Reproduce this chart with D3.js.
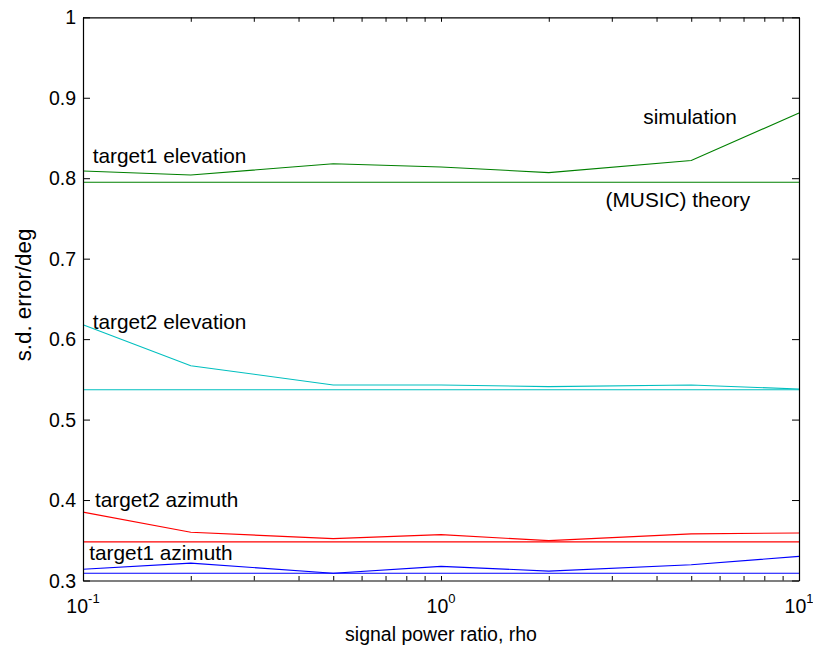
<!DOCTYPE html>
<html>
<head>
<meta charset="utf-8">
<script src="https://cdn.jsdelivr.net/npm/d3@7"></script>
<style>
  html, body { margin: 0; padding: 0; background: #fff; }
  svg { display: block; font-family: "Liberation Sans", Arial, sans-serif; }
</style>
</head>
<body>
<svg id="chart" width="813" height="650"></svg>
<script>
// signal power ratio values (log axis)
const rho = [0.1, 0.2, 0.5, 1, 2, 5, 10];

// standard deviation of the DOA error, in degrees
const t1ElevSim    = [0.809, 0.804, 0.818, 0.814, 0.807, 0.822, 0.881];
const t1ElevTheory = [0.795, 0.795, 0.795, 0.795, 0.795, 0.795, 0.795];
const t2ElevSim    = [0.618, 0.567, 0.543, 0.543, 0.541, 0.543, 0.538];
const t2ElevTheory = [0.537, 0.537, 0.537, 0.537, 0.537, 0.537, 0.537];
const t2AzSim      = [0.385, 0.360, 0.352, 0.357, 0.3495, 0.358, 0.359];
const t2AzTheory   = [0.348, 0.348, 0.348, 0.348, 0.348, 0.348, 0.348];
const t1AzSim      = [0.314, 0.3216, 0.309, 0.3176, 0.3117, 0.3196, 0.330];
const t1AzTheory   = [0.309, 0.309, 0.309, 0.309, 0.309, 0.309, 0.309];

const yTicks = [0.3, 0.4, 0.5, 0.6, 0.7, 0.8, 0.9, 1];
const yTickLabels = ["0.3", "0.4", "0.5", "0.6", "0.7", "0.8", "0.9", "1"];
const xMajor = [0.1, 1, 10];
const xMajorExp = ["-1", "0", "1"];
const xMinor = [0.2, 0.3, 0.4, 0.5, 0.6, 0.7, 0.8, 0.9, 2, 3, 4, 5, 6, 7, 8, 9];

const series = [
  { values: t1ElevSim,    color: "#008000" },
  { values: t1ElevTheory, color: "#008000" },
  { values: t2ElevSim,    color: "#00bfbf" },
  { values: t2ElevTheory, color: "#00bfbf" },
  { values: t2AzSim,      color: "#ff0000" },
  { values: t2AzTheory,   color: "#ff0000" },
  { values: t1AzSim,      color: "#0000ff" },
  { values: t1AzTheory,   color: "#0000ff" }
];

// text annotations placed in data coordinates
const annotations = [
  { text: "simulation",        x: 6.71,  y: 0.867,  anchor: "end" },
  { text: "(MUSIC) theory",    x: 7.30,  y: 0.764,  anchor: "end" },
  { text: "target1 elevation", x: 0.1064, y: 0.8189, anchor: "start" },
  { text: "target2 elevation", x: 0.1064, y: 0.6126, anchor: "start" },
  { text: "target2 azimuth",   x: 0.108,  y: 0.3914, anchor: "start" },
  { text: "target1 azimuth",   x: 0.1041, y: 0.3255, anchor: "start" }
];

const svg = d3.select("#chart");
const m = { left: 83, top: 17.3, right: 799, bottom: 580.5 };
const fs = 19.5;
const fsNote = 20.8;

const x = d3.scaleLog().domain([0.1, 10]).range([m.left, m.right]);
const y = d3.scaleLinear().domain([0.3, 1]).range([m.bottom, m.top]);

// data lines
const line = d3.line().x((d, i) => x(rho[i])).y(d => y(d));
svg.append("g").selectAll("path").data(series).join("path")
  .attr("d", d => line(d.values))
  .attr("fill", "none")
  .attr("stroke", d => d.color)
  .attr("stroke-width", 1.1);

// axes (box with inward ticks on all sides)
const yTickLen = 7, xTickLen = 4.5;
const allX = xMajor.concat(xMinor);
const axBottom = d3.axisBottom(x).tickValues(allX).tickSizeInner(-xTickLen).tickSizeOuter(0).tickFormat("");
const axTop = d3.axisTop(x).tickValues(allX).tickSizeInner(-xTickLen).tickSizeOuter(0).tickFormat("");
const axLeft = d3.axisLeft(y).tickValues(yTicks).tickSizeInner(-yTickLen).tickSizeOuter(0).tickFormat("");
const axRight = d3.axisRight(y).tickValues(yTicks).tickSizeInner(-yTickLen).tickSizeOuter(0).tickFormat("");

svg.append("g").attr("transform", `translate(0,${m.bottom})`).call(axBottom);
svg.append("g").attr("transform", `translate(0,${m.top})`).call(axTop);
svg.append("g").attr("transform", `translate(${m.left},0)`).call(axLeft);
svg.append("g").attr("transform", `translate(${m.right},0)`).call(axRight);
svg.selectAll(".domain").attr("stroke", "#000").attr("stroke-width", 1.2);
svg.selectAll(".tick line").attr("stroke", "#000").attr("stroke-width", 1);

// y tick labels
svg.append("g").selectAll("text").data(yTicks).join("text")
  .attr("x", m.left - 7)
  .attr("y", d => y(d))
  .attr("dy", "0.36em")
  .attr("text-anchor", "end")
  .attr("font-size", fs)
  .attr("fill", "#000")
  .text((d, i) => yTickLabels[i]);

// x tick labels: 10 with superscript exponent
const xl = svg.append("g").selectAll("text").data(xMajor).join("text")
  .attr("x", d => x(d))
  .attr("y", 613)
  .attr("text-anchor", "middle")
  .attr("font-size", fs)
  .attr("fill", "#000");
xl.append("tspan").text("10");
xl.append("tspan").attr("dy", -10).attr("font-size", 13).text((d, i) => xMajorExp[i]);

// axis titles
svg.append("text")
  .attr("x", (m.left + m.right) / 2)
  .attr("y", 641)
  .attr("text-anchor", "middle")
  .attr("font-size", fs)
  .text("signal power ratio, rho");

svg.append("text")
  .attr("transform", "translate(31,295) rotate(-90)")
  .attr("text-anchor", "middle")
  .attr("font-size", 22.3)
  .text("s.d. error/deg");

// in-plot annotations
svg.append("g").selectAll("text").data(annotations).join("text")
  .attr("x", d => x(d.x))
  .attr("y", d => y(d.y))
  .attr("text-anchor", d => d.anchor)
  .attr("font-size", fsNote)
  .attr("fill", "#000")
  .text(d => d.text);
</script>
</body>
</html>
